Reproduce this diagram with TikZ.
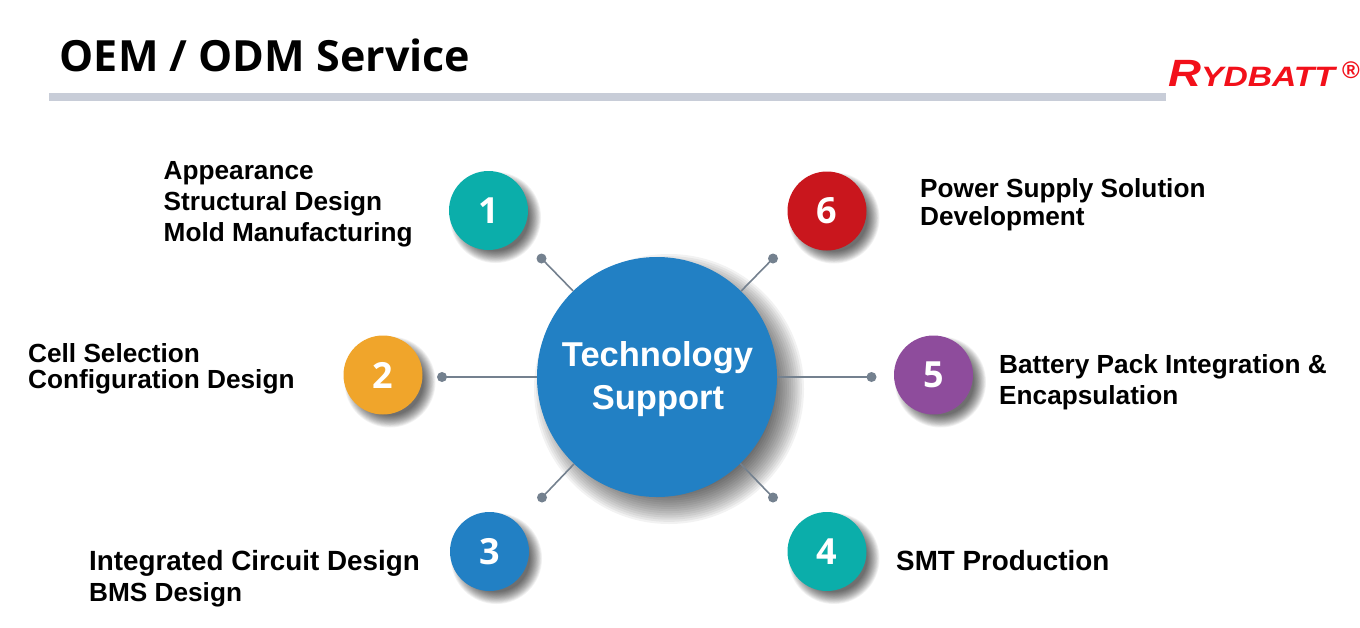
\documentclass[tikz,border=0pt]{standalone}
\usepackage{fontspec}
\setmainfont{Liberation Sans}
\newfontfamily\openf{Open Sans}
\definecolor{teal1}{HTML}{0BAEAA}
\definecolor{orange1}{HTML}{F0A52B}
\definecolor{blue1}{HTML}{2280C4}
\definecolor{red1}{HTML}{C9161D}
\definecolor{purple1}{HTML}{8E4C9C}
\definecolor{rule1}{HTML}{C8CDD8}
\definecolor{link1}{HTML}{74818F}
\definecolor{logo1}{HTML}{F2101A}
\tikzset{
  numdisc/.style={circle,minimum size=79pt,inner sep=0pt,text=white,font=\openf\bfseries\fontsize{36}{36}\selectfont},
  hubdisc/.style={circle,minimum size=240pt,inner sep=0pt,fill=blue1},
  hubtext/.style={inner sep=0pt,text=white,font=\bfseries\fontsize{34.5}{34.5}\selectfont},
  lab/.style={anchor=west,align=left,inner sep=0pt,text=black,font=\bfseries\fontsize{26.2}{31}\selectfont},
  enddot/.style={circle,fill=link1,minimum size=10pt,inner sep=0pt},
  linkline/.style={draw=link1,line width=1.6pt}
}
% x, y, radius, offset, spread
\newcommand{\softshadow}[5]{%
  \foreach \i in {0,...,14}{\fill[black,opacity=0.05] (#1+#4,#2+#4) circle ({#3-#5*0.5+\i*#5/14});}%
}
\begin{document}
\begin{tikzpicture}[x=1pt,y=-1pt]
\useasboundingbox (0,0) rectangle (1360,627);
\fill[white] (0,0) rectangle (1360,627);
\node[anchor=west,inner sep=0pt,font=\openf\bfseries\fontsize{43}{43}\selectfont] (title) at (59.5,55.5) {OEM / ODM Service};
\fill[rule1] (49,93) rectangle (1166,101);
\node[anchor=west,inner sep=0pt,text=logo1,font=\bfseries\itshape,xscale=1.2] (logo) at (1168,73.5) {\fontsize{38}{38}\selectfont R\fontsize{28}{28}\selectfont YDBATT};
\node[anchor=west,inner sep=0pt,text=logo1,font=\bfseries\fontsize{24}{24}\selectfont] (reg) at (1342,70) {®};

\softshadow{488.5}{210.5}{39.5}{7}{12}
\softshadow{827}{211}{39.5}{7}{12}
\softshadow{383}{375}{39.5}{7}{12}
\softshadow{933.5}{375}{39.5}{7}{12}
\softshadow{489.5}{551.5}{39.5}{7}{12}
\softshadow{827}{551.5}{39.5}{7}{12}
\softshadow{657}{377}{120}{12}{30}

\node[enddot] (d1) at (541.5,258.5) {};
\node[enddot] (d6) at (773,258.5) {};
\node[enddot] (d2) at (442,377) {};
\node[enddot] (d5) at (871.5,377) {};
\node[enddot] (d3) at (542,497.5) {};
\node[enddot] (d4) at (773,497.5) {};
\node[hubdisc] (hub) at (657,377) {};
\node[hubtext] (hub1) at (657.5,358) {Technology};
\node[hubtext] (hub2) at (658,401) {Support};
\draw[linkline] (d1.center) -- (hub);
\draw[linkline] (d6.center) -- (hub);
\draw[linkline] (d2.center) -- (hub);
\draw[linkline] (d5.center) -- (hub);
\draw[linkline] (d3.center) -- (hub);
\draw[linkline] (d4.center) -- (hub);

\node[numdisc,fill=teal1] (n1) at (488.5,210.5) {1};
\node[numdisc,fill=red1] (n6) at (827,211) {6};
\node[numdisc,fill=orange1] (n2) at (383,375) {2};
\node[numdisc,fill=purple1] (n5) at (933.5,375) {5};
\node[numdisc,fill=blue1] (n3) at (489.5,551.5) {3};
\node[numdisc,fill=teal1] (n4) at (827,551.5) {4};

\node[lab] (t1) at (163.5,204) {Appearance\\Structural Design\\Mold Manufacturing};
\node[lab,font=\bfseries\fontsize{26.2}{28}\selectfont] (t6) at (920,204.5) {Power Supply Solution\\Development};
\node[lab,font=\bfseries\fontsize{26.2}{26}\selectfont] (t2) at (28,369) {Cell Selection\\Configuration Design};
\node[lab] (t5) at (999,382) {Battery Pack Integration \&\\Encapsulation};
\node[lab] (t3) at (89,578.5) {{\fontsize{27.8}{31}\selectfont Integrated Circuit Design}\\BMS Design};
\node[lab,font=\bfseries\fontsize{27.8}{31}\selectfont] (t4) at (896,561) {SMT Production};
\end{tikzpicture}
\end{document}
